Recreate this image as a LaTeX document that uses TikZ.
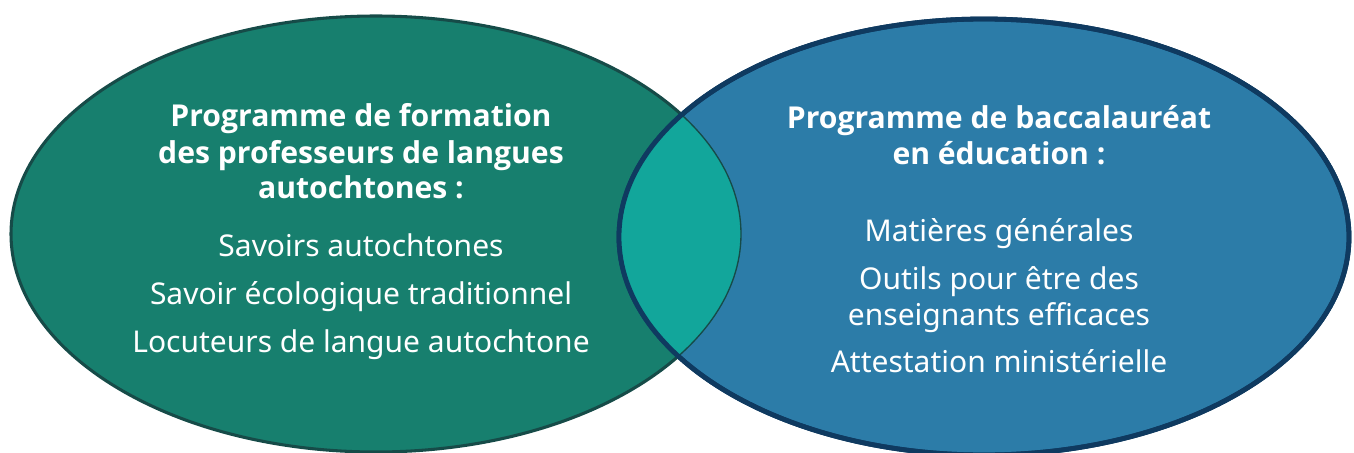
\documentclass[tikz,border=0pt]{standalone}
\usepackage{fontspec}
\setmainfont{Noto Sans}
\newfontfamily\headfont{Open Sans}
\definecolor{leftfill}{HTML}{177F6E}
\definecolor{leftline}{HTML}{164B48}
\definecolor{rightfill}{HTML}{2C7CA8}
\definecolor{rightline}{HTML}{0F3A60}
\definecolor{lensfill}{HTML}{12A69B}
\tikzset{
  head/.style={text=white, anchor=base, font=\headfont\bfseries\fontsize{22.6}{27}\selectfont, inner sep=0pt},
  item/.style={text=white, anchor=base, font=\fontsize{22.5}{27}\selectfont, inner sep=0pt},
}
\begin{document}
\begin{tikzpicture}[x=0.75pt, y=-0.75pt, line join=round]
\useasboundingbox (0,0) rectangle (1354,453);
% the two sets
\draw[fill=leftfill, draw=leftline, line width=2.3pt] (376,234) ellipse[x radius=365, y radius=218];
\draw[fill=rightfill, draw=rightline, line width=3.6pt] (984,237) ellipse[x radius=365, y radius=218];
% their common part
\begin{scope}
\clip (984,237) ellipse[x radius=365, y radius=218];
\draw[fill=lensfill, draw=leftline, line width=1pt] (376,234) ellipse[x radius=365, y radius=218];
\end{scope}
\draw[rightline, line width=3.6pt] (984,237) ellipse[x radius=365, y radius=218];
% left set
\node[head] (lh1) at (361,127) {Programme de formation};
\node[head] (lh2) at (361,163) {des professeurs de langues};
\node[head] (lh3) at (361,198) {autochtones :};
\node[item] (l1) at (361,256) {Savoirs autochtones};
\node[item] (l2) at (361,304) {Savoir écologique traditionnel};
\node[item] (l3) at (361,352) {Locuteurs de langue autochtone};
% right set
\node[head] (rh1) at (999,128) {Programme de baccalauréat};
\node[head] (rh2) at (999,164) {en éducation :};
\node[item] (r1) at (999,241) {Matières générales};
\node[item] (r2) at (999,289) {Outils pour être des};
\node[item] (r3) at (999,325) {enseignants efficaces};
\node[item] (r4) at (999,372) {Attestation ministérielle};
\end{tikzpicture}
\end{document}
